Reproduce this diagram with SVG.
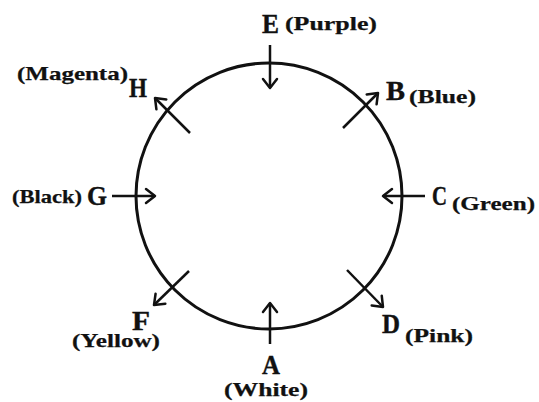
<svg xmlns="http://www.w3.org/2000/svg" width="539" height="402" viewBox="0 0 539 402">
<style>
.big{font-family:"Liberation Serif","Times New Roman",serif;font-weight:bold;font-size:27px;fill:#111;stroke:#111;stroke-width:0.4;}
.lab{font-family:"Liberation Serif","Times New Roman",serif;font-weight:bold;font-size:19px;fill:#111;stroke:#111;stroke-width:0.25;}
.arr{stroke:#111;stroke-width:2.5;fill:none;marker-end:url(#head);}
</style>
<defs>
<marker id="head" markerUnits="userSpaceOnUse" markerWidth="16" markerHeight="20" refX="12" refY="10" orient="auto">
<path d="M3,3 L12,10 L3,17" fill="none" stroke="#111" stroke-width="2.5" stroke-linecap="round" stroke-linejoin="round"/>
</marker>
</defs>
<rect width="539" height="402" fill="#fff"/>
<circle id="circle" cx="269" cy="196" r="133" fill="none" stroke="#111" stroke-width="3"/>
<g id="connectors">
<line class="arr" x1="270" y1="45" x2="270" y2="88"/>
<line class="arr" x1="343" y1="128" x2="378" y2="93"/>
<line class="arr" x1="425" y1="196" x2="383" y2="196"/>
<line class="arr" x1="347" y1="270" x2="383" y2="307"/>
<line class="arr" x1="270" y1="344" x2="270" y2="303"/>
<line class="arr" x1="189" y1="271" x2="154" y2="305"/>
<line class="arr" x1="112" y1="196" x2="155" y2="196"/>
<line class="arr" x1="190" y1="133" x2="155" y2="98"/>
</g>
<g id="node-E"><text class="big" x="262" y="33" textLength="17" lengthAdjust="spacingAndGlyphs">E</text><text class="lab" x="285" y="30" textLength="92" lengthAdjust="spacingAndGlyphs">(Purple)</text></g>
<g id="node-B"><text class="big" x="386" y="100" textLength="19" lengthAdjust="spacingAndGlyphs">B</text><text class="lab" x="409" y="103" textLength="67" lengthAdjust="spacingAndGlyphs">(Blue)</text></g>
<g id="node-C"><text class="big" x="432" y="205" textLength="15" lengthAdjust="spacingAndGlyphs">C</text><text class="lab" x="452" y="210" textLength="83" lengthAdjust="spacingAndGlyphs">(Green)</text></g>
<g id="node-D"><text class="big" x="382" y="333" textLength="18" lengthAdjust="spacingAndGlyphs">D</text><text class="lab" x="405" y="342" textLength="68" lengthAdjust="spacingAndGlyphs">(Pink)</text></g>
<g id="node-A"><text class="big" x="262" y="374" textLength="18" lengthAdjust="spacingAndGlyphs">A</text><text class="lab" x="224" y="396" textLength="84" lengthAdjust="spacingAndGlyphs">(White)</text></g>
<g id="node-F"><text class="big" x="132" y="330" textLength="18" lengthAdjust="spacingAndGlyphs">F</text><text class="lab" x="72" y="347" textLength="88" lengthAdjust="spacingAndGlyphs">(Yellow)</text></g>
<g id="node-G"><text class="big" x="87" y="205" textLength="20" lengthAdjust="spacingAndGlyphs">G</text><text class="lab" x="12" y="203" textLength="70" lengthAdjust="spacingAndGlyphs">(Black)</text></g>
<g id="node-H"><text class="big" x="129" y="97" textLength="18" lengthAdjust="spacingAndGlyphs">H</text><text class="lab" x="17" y="80" textLength="111" lengthAdjust="spacingAndGlyphs">(Magenta)</text></g>
</svg>
